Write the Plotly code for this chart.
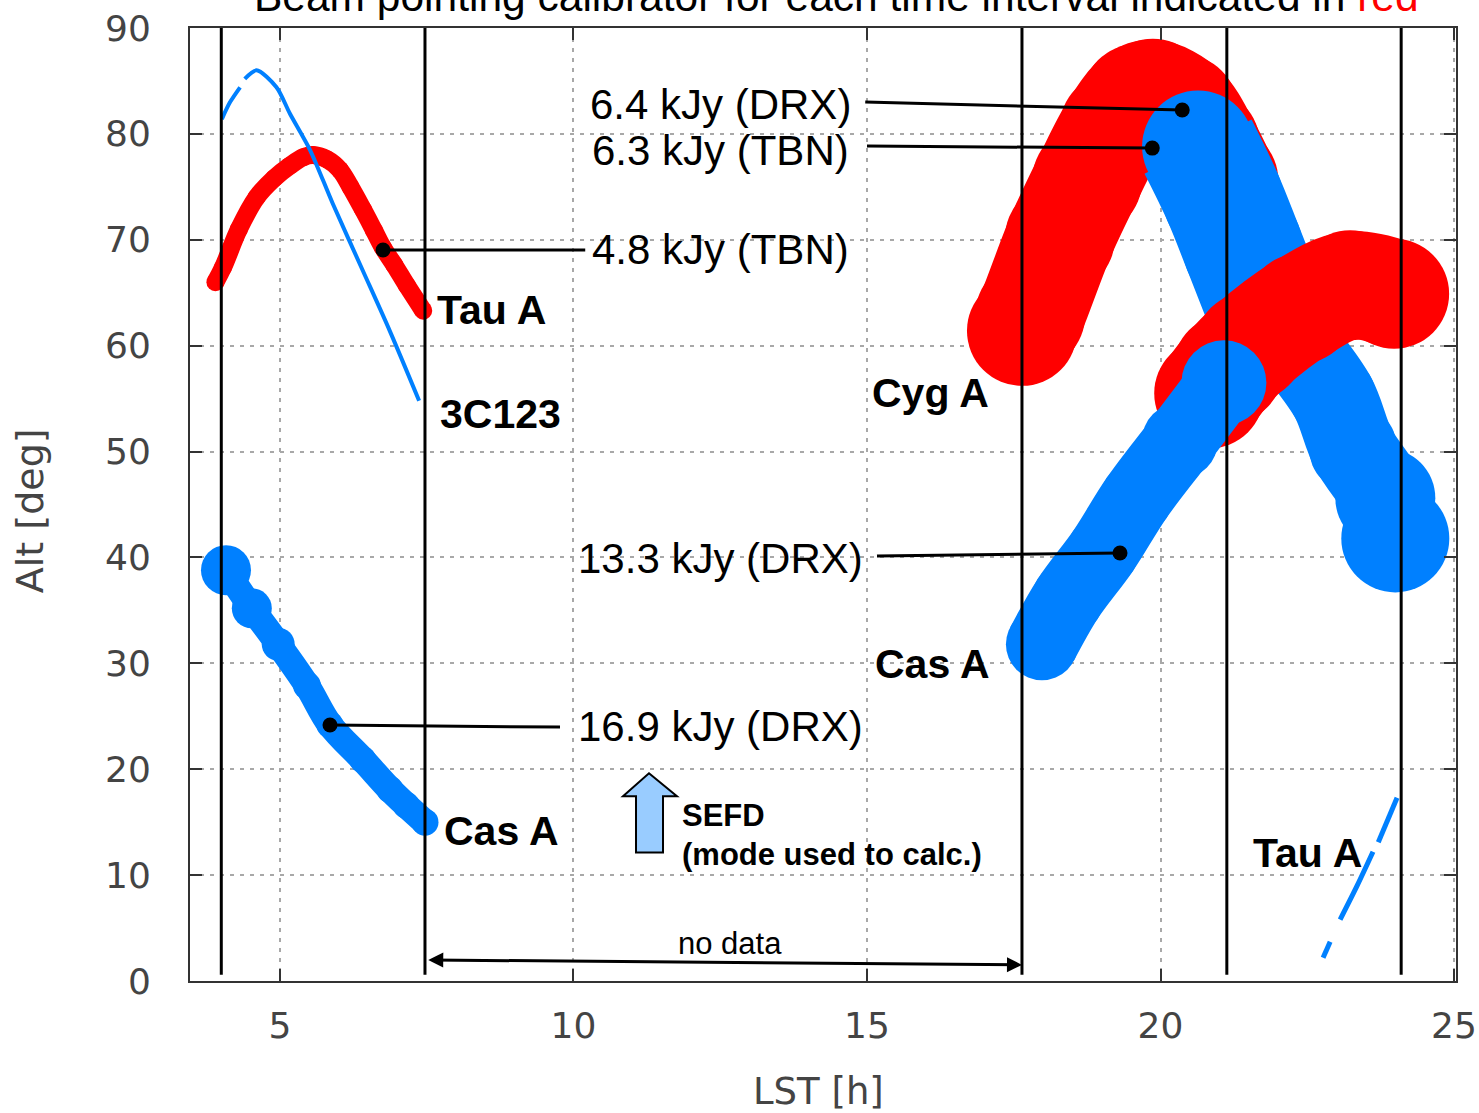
import plotly.graph_objects as go

# Observation interval boundaries (LST, hours)
interval_edges = [4.0, 7.47, 17.64, 21.13, 24.1]

# Source tracks: LST [h] vs altitude [deg]
# Tau A, first interval (calibrator, red)
tau_a_lst = [3.9, 4.03, 4.3, 4.6, 4.9, 5.17, 5.4, 5.56, 5.8, 6.02, 6.2, 6.41, 6.6, 6.75, 6.95, 7.16, 7.44]
tau_a_alt = [66.0, 67.4, 71.0, 74.0, 75.8, 77.0, 77.8, 78.0, 77.6, 76.6, 75.0, 72.9, 70.9, 69.3, 67.6, 65.7, 63.3]

# 3C123, first interval (thin track, with a short data gap)
c3c123_lst = [4.01, 4.15, 4.32, None, 4.40, 4.60, 4.94, 5.17, 5.51, 5.90, 6.41, 6.87, 7.37]
c3c123_alt = [81.4, 83.0, 84.4, None, 85.2, 86.0, 84.4, 81.9, 78.5, 73.4, 67.1, 61.4, 54.8]

# Cas A, first interval
cas_a1_lst = [4.08, 4.52, 4.97, 5.46, 5.85, 6.41, 6.87, 7.15, 7.47]
cas_a1_alt = [38.8, 35.2, 31.8, 27.9, 24.2, 20.9, 18.1, 16.6, 15.0]

# Cyg A, second interval (calibrator, red)
cyg_a_red_lst = [17.64, 17.78, 18.29, 18.75, 19.22, 19.6, 19.87, 20.38, 20.76, 21.07]
cyg_a_red_alt = [61.4, 62.9, 70.2, 75.6, 80.6, 83.3, 83.8, 82.3, 79.0, 75.6]

# Cyg A, third interval
cyg_a_blue_lst = [20.64, 21.06, 21.40, 21.74, 22.30, 22.94, 23.28, 23.83, 24.0]
cyg_a_blue_alt = [78.8, 74.0, 69.3, 64.5, 60.1, 55.1, 50.3, 45.6, 41.8]

# Cas A, third interval (calibrator, red)
cas_a_red_lst = [20.83, 21.15, 21.52, 22.38, 23.23, 23.98]
cas_a_red_alt = [55.5, 57.8, 59.9, 63.5, 65.7, 64.9]

# Cas A, second interval
cas_a2_lst = [17.98, 18.42, 19.02, 19.59, 20.33, 21.08]
cas_a2_alt = [31.8, 36.1, 40.6, 45.6, 51.0, 56.5]

# Tau A, rising late in the third interval (thin track, gaps)
tau_a2_lst = [22.77, 22.89, None, 23.06, 23.35, 23.62, None, 23.71, 24.03]
tau_a2_alt = [2.2, 3.7, None, 5.8, 9.0, 12.2, None, 13.1, 17.3]

# SEFD labels: (text, label x, label y, line start, dot position)
sefd_labels = [
    ("6.4 kJy (DRX)", 12.50, 82.8, (14.97, 83.0), (20.37, 82.25)),
    ("6.3 kJy (TBN)", 12.50, 78.4, (15.0, 78.85), (19.86, 78.66)),
    ("4.8 kJy (TBN)", 12.50, 69.1, (10.2, 69.03), (6.755, 69.03)),
    ("13.3 kJy (DRX)", 12.50, 39.9, (15.17, 40.13), (19.31, 40.42)),
    ("16.9 kJy (DRX)", 12.50, 24.0, (9.77, 23.98), (5.852, 24.17)),
]

# Source names placed beside the tracks
source_names = [
    ("Tau A", 7.64, 63.4),
    ("3C123", 7.70, 53.5),
    ("Cyg A", 15.05, 55.5),
    ("Cas A", 15.10, 29.9),
    ("Cas A", 7.76, 14.2),
    ("Tau A", 21.55, 12.1),
]

RED = "#ff0000"
BLUE = "#0080ff"
TEXT_FONT = "Liberation Sans, Arial, sans-serif"
AXIS_FONT = "DejaVu Sans, Verdana, sans-serif"

fig = go.Figure()


def band(x, y, color, width, sizes):
    """Thick track drawn as a wide smoothed line with round dots at each sample."""
    fig.add_trace(go.Scatter(
        x=x, y=y, mode="lines+markers",
        line=dict(color=color, width=width, shape="spline", smoothing=1),
        marker=dict(color=color, size=sizes, opacity=1, line=dict(width=0)),
        hoverinfo="skip", showlegend=False,
    ))


def thin(x, y, color, width):
    fig.add_trace(go.Scatter(
        x=x, y=y, mode="lines", connectgaps=False,
        line=dict(color=color, width=width, shape="spline", smoothing=0.8),
        hoverinfo="skip", showlegend=False,
    ))


# First interval
band(tau_a_lst, tau_a_alt, RED, 18, 18)
thin(c3c123_lst, c3c123_alt, BLUE, 4)
band(cas_a1_lst, cas_a1_alt, BLUE, 26, [50, 40, 33, 28, 27, 27, 27, 27, 27])

# Second / third intervals (stacking order matters)
band(cyg_a_red_lst, cyg_a_red_alt, RED, 108, 110)
# Cyg A after transit: broad near the top, narrower on the way down
band(cyg_a_blue_lst[:4], cyg_a_blue_alt[:4], BLUE, 120, [112, 120, 120, 110])
band(cyg_a_blue_lst[3:], cyg_a_blue_alt[3:], BLUE, 86, [96, 88, 86, 88, 100, 108])
band(cas_a_red_lst, cas_a_red_alt, RED, 108, 110)
band(cas_a2_lst, cas_a2_alt, BLUE, 72, [72, 72, 72, 72, 76, 85])
thin(tau_a2_lst, tau_a2_alt, BLUE, 5)

# Interval boundaries
for xe in interval_edges:
    fig.add_trace(go.Scatter(
        x=[xe, xe], y=[0.6, 90], mode="lines",
        line=dict(color="black", width=3),
        hoverinfo="skip", showlegend=False,
    ))

# SEFD leader lines and dots
annotations = []
for text, tx, ty, (x0, y0), (x1, y1) in sefd_labels:
    fig.add_trace(go.Scatter(
        x=[x0, x1], y=[y0, y1], mode="lines",
        line=dict(color="black", width=3),
        hoverinfo="skip", showlegend=False,
    ))
    fig.add_trace(go.Scatter(
        x=[x1], y=[y1], mode="markers",
        marker=dict(color="black", size=15, opacity=1),
        hoverinfo="skip", showlegend=False,
    ))
    annotations.append(dict(
        x=tx, y=ty, xref="x", yref="y", text=text, showarrow=False,
        xanchor="center", yanchor="middle",
        font=dict(family=TEXT_FONT, size=42, color="black"),
    ))

for name, nx, ny in source_names:
    annotations.append(dict(
        x=nx, y=ny, xref="x", yref="y", text=f"<b>{name}</b>", showarrow=False,
        xanchor="left", yanchor="middle",
        font=dict(family=TEXT_FONT, size=41, color="black"),
    ))

# SEFD key text
annotations.append(dict(
    x=11.82, y=15.6, xref="x", yref="y", text="<b>SEFD</b>", showarrow=False,
    xanchor="left", yanchor="middle",
    font=dict(family=TEXT_FONT, size=31, color="black"),
))
annotations.append(dict(
    x=11.82, y=11.9, xref="x", yref="y", text="<b>(mode used to calc.)</b>", showarrow=False,
    xanchor="left", yanchor="middle",
    font=dict(family=TEXT_FONT, size=31, color="black"),
))

# "no data" gap marker
annotations.append(dict(
    x=17.64, y=1.52, ax=7.5, ay=1.99, xref="x", yref="y", axref="x", ayref="y",
    text="", showarrow=True, arrowhead=2, arrowside="end+start",
    arrowwidth=3, arrowsize=1, arrowcolor="black", standoff=0, startstandoff=0,
))
annotations.append(dict(
    x=12.67, y=3.5, xref="x", yref="y", text="no data", showarrow=False,
    xanchor="center", yanchor="middle",
    font=dict(family=TEXT_FONT, size=31, color="black"),
))

# Title and axis titles
annotations.append(dict(
    x=0.5103, y=1.0063, xref="paper", yref="paper", xanchor="center", yanchor="bottom",
    text='Beam pointing calibrator for each time interval indicated in <span style="color:red">red</span>',
    showarrow=False, font=dict(family=TEXT_FONT, size=42.5, color="black"),
))
annotations.append(dict(
    x=-0.1264, y=0.494, xref="paper", yref="paper", xanchor="center", yanchor="middle",
    text="Alt [deg]", textangle=-90, showarrow=False,
    font=dict(family=AXIS_FONT, size=38, color="#444444"),
))
annotations.append(dict(
    x=0.4968, y=-0.1155, xref="paper", yref="paper", xanchor="center", yanchor="middle",
    text="LST [h]", showarrow=False,
    font=dict(family=AXIS_FONT, size=37, color="#444444"),
))

# Up arrow used as the SEFD key
fig.add_shape(
    type="path", xref="x", yref="y",
    path="M 11.286,19.62 L 11.763,17.44 L 11.525,17.44 L 11.525,12.13 "
         "L 11.065,12.13 L 11.065,17.44 L 10.843,17.44 Z",
    fillcolor="#99ccff", line=dict(color="black", width=2), layer="above",
)

axis_common = dict(
    showgrid=True, gridcolor="#a8a8a8", gridwidth=2, griddash="4px,6px",
    showline=True, linecolor="#333333", linewidth=2, mirror="ticks",
    ticks="inside", ticklen=12, tickwidth=2, tickcolor="#333333",
    zeroline=False, automargin=False,
    tickfont=dict(family=AXIS_FONT, size=36, color="#444444"),
)

fig.update_layout(
    width=1479, height=1113, autosize=False,
    margin=dict(l=190, r=23, t=28, b=132),
    paper_bgcolor="white", plot_bgcolor="white",
    showlegend=False,
    annotations=annotations,
    xaxis=dict(range=[3.467, 25.034], tickvals=[5, 10, 15, 20, 25],
               ticklabelstandoff=12, **axis_common),
    yaxis=dict(range=[0, 90], tickvals=list(range(0, 91, 10)),
               ticklabelstandoff=30, **axis_common),
)

fig.write_html("out.html")
